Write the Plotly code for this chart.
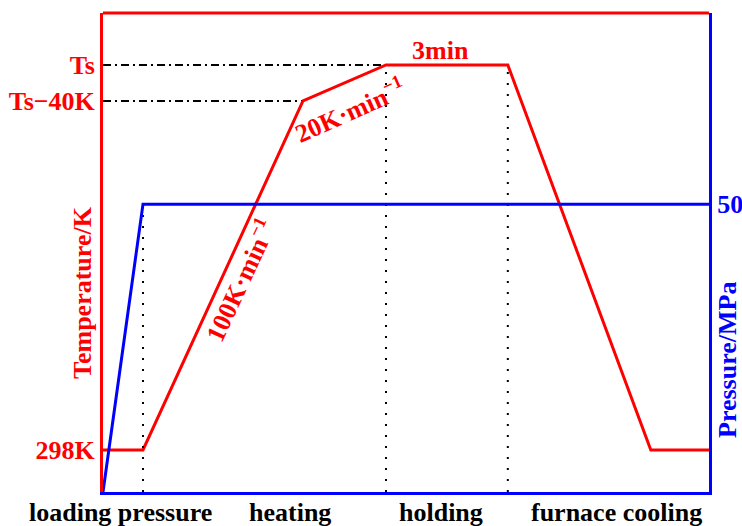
import plotly.graph_objects as go

# Process schedule: time in relative units across the whole run
time_temp = [0, 6.6, 33.0, 46.7, 66.8, 90.4, 100]
TS = 726          # sintering temperature, K
T_ROOM = 298
temperature = [T_ROOM, T_ROOM, TS - 40, TS, TS, T_ROOM, T_ROOM]

time_pres = [0, 6.6, 100]
pressure = [0, 50, 50]

temp_ticks = [T_ROOM, TS - 40, TS]
temp_tick_text = ["298K", "Ts\u221240K", "Ts"]
pres_ticks = [50]
pres_tick_text = ["50"]

stage_names = ["loading pressure", "heating", "holding", "furnace cooling"]
stage_centres = [120, 290, 441, 616]   # pixel centres of stage captions

T_RANGE = [251.3, 783.8]
P_RANGE = [0, 83.2]
X_RANGE = [0, 100]

RED = "#ff0000"
BLUE = "#0000ff"
FONT = "Liberation Serif"
FS = 26

W, H = 742, 526
L, R, T, B = 103, 33, 13, 34
PW, PH = W - L - R, H - T - B


def px_to_paper(px, py):
    return (px - L) / PW, (H - B - py) / PH


fig = go.Figure()

# guide lines: dash-dot to the temperature axis, dotted stage boundaries
dashdot = "8px,4px,2px,4px"
fig.add_trace(go.Scatter(x=[0, time_temp[3]], y=[TS, TS], mode="lines",
                         line=dict(color="black", width=2, dash=dashdot)))
fig.add_trace(go.Scatter(x=[0, time_temp[2]], y=[TS - 40, TS - 40], mode="lines",
                         line=dict(color="black", width=2, dash=dashdot)))
for tx in (time_temp[3], time_temp[4]):
    fig.add_trace(go.Scatter(x=[tx, tx], y=[T_RANGE[0], TS], mode="lines",
                             line=dict(color="black", width=2, dash="2px,9px")))
fig.add_trace(go.Scatter(x=[time_pres[1], time_pres[1]], y=[0, pressure[1]],
                         mode="lines", yaxis="y2",
                         line=dict(color="black", width=2, dash="2px,9px")))

# pressure and temperature curves
fig.add_trace(go.Scatter(x=time_pres, y=pressure, mode="lines", yaxis="y2",
                         line=dict(color=BLUE, width=3)))
fig.add_trace(go.Scatter(x=time_temp, y=temperature, mode="lines",
                         line=dict(color=RED, width=3)))

bold = dict(family=FONT, size=FS, weight="bold")
centred = dict(showarrow=False, xanchor="center", yanchor="middle")

annotations = []
# rate / duration labels along the temperature curve
annotations.append(dict(x=(time_temp[3] + time_temp[4]) / 2, y=TS, xref="x", yref="y",
                        text="3min", yshift=14, xshift=-6,
                        font=dict(bold, color=RED), **centred))
annotations.append(dict(x=(time_temp[2] + time_temp[3]) / 2, y=(TS - 40 + TS) / 2,
                        xref="x", yref="y", text="20K\u00b7min<sup>\u22121</sup>",
                        textangle=-24, xshift=6, yshift=-27,
                        font=dict(bold, color=RED), **centred))
annotations.append(dict(x=(time_temp[1] + time_temp[2]) / 2, y=(T_ROOM + TS - 40) / 2,
                        xref="x", yref="y", text="100K\u00b7min<sup>\u22121</sup>",
                        textangle=-65, xshift=17, yshift=-4,
                        font=dict(bold, color=RED), **centred))

# axis titles
tx, ty = px_to_paper(82, 293)
annotations.append(dict(x=tx, y=ty, xref="paper", yref="paper", text="Temperature/K",
                        textangle=-90, font=dict(bold, color=RED), **centred))
tx, ty = px_to_paper(727, 360)
annotations.append(dict(x=tx, y=ty, xref="paper", yref="paper", text="Pressure/MPa",
                        textangle=-90, font=dict(bold, color=BLUE), **centred))

# stage captions below the time axis
for name, cx in zip(stage_names, stage_centres):
    sx, sy = px_to_paper(cx, 512)
    annotations.append(dict(x=sx, y=sy, xref="paper", yref="paper", text=name,
                            font=dict(bold, color="black"), **centred))

fig.update_layout(
    width=W, height=H,
    margin=dict(l=L, r=R, t=T, b=B, pad=0, autoexpand=False),
    paper_bgcolor="white", plot_bgcolor="white",
    showlegend=False,
    annotations=annotations,
    xaxis=dict(range=X_RANGE, showgrid=False, zeroline=False, showticklabels=False,
               ticks="", showline=True, linecolor=BLUE, linewidth=3, automargin=False),
    yaxis=dict(range=T_RANGE, showgrid=False, zeroline=False, ticks="",
               tickvals=temp_ticks, ticktext=temp_tick_text,
               tickfont=dict(bold, color=RED), automargin=False,
               showline=True, linecolor=RED, linewidth=3),
    yaxis2=dict(range=P_RANGE, overlaying="y", side="right", showgrid=False,
                zeroline=False, ticks="", tickvals=pres_ticks, ticktext=pres_tick_text,
                tickfont=dict(bold, color=BLUE), automargin=False,
                showline=True, linecolor=BLUE, linewidth=3),
    shapes=[dict(type="line", xref="paper", yref="paper", x0=0, x1=1, y0=1, y1=1,
                 line=dict(color=RED, width=3))],
)

fig.write_html("out.html")
